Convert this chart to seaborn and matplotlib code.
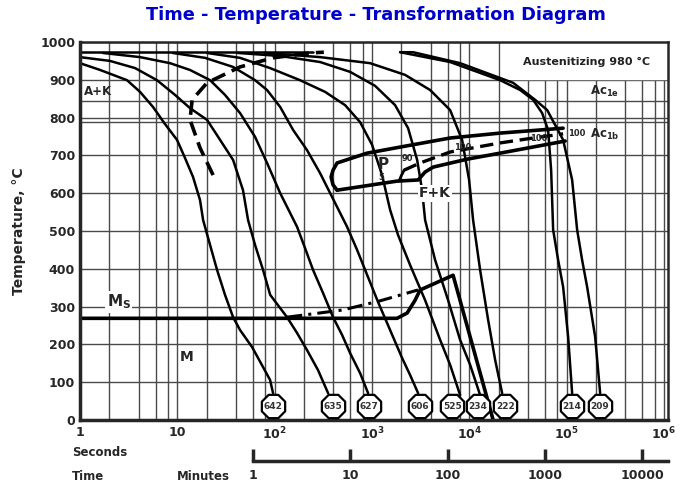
import matplotlib
matplotlib.use('Agg')
import matplotlib.pyplot as plt
import seaborn as sns

sns.set_style('white')
plt.rcParams['font.family'] = ['DejaVu Sans']

# cooling curves (time in seconds, temperature in degC), labelled by hardness
t_642 = [1, 1.61, 3.04, 4.14, 5.63, 7.47, 9.93, 12.0, 14.5, 17.1, 18.4, 21.7, 25.6,
         30.9, 37.4, 44.1, 58.6, 76.0, 89.7, 96.3]
T_642 = [944, 926, 899, 868, 828, 783, 741, 693, 643, 582, 529, 463, 397,
         331, 272, 238, 193, 140, 106, 71]
t_635 = [1, 2.03, 3.68, 6.18, 9.47, 13.5, 20.2, 27.5, 37.4, 47.3, 53.3, 62.9, 76.0,
         90.0, 134, 170, 215, 279, 354]
T_635 = [960, 950, 931, 899, 860, 825, 794, 741, 688, 608, 529, 463, 397,
         331, 272, 230, 185, 132, 71]
t_627 = [1.72, 4.14, 8.41, 13.5, 21.7, 30.9, 44.1, 62.9, 83.5, 114, 170, 205, 248,
         314, 398, 493, 596, 755, 912]
T_627 = [971, 960, 944, 926, 899, 860, 812, 749, 680, 600, 511, 455, 397,
         336, 272, 225, 177, 124, 71]
t_606 = [9.0, 19.3, 37.4, 62.9, 83.5, 114, 155, 215, 293, 418, 555, 703, 891,
         1155, 1535, 2039, 2464, 2978]
T_606 = [971, 958, 934, 899, 873, 828, 767, 714, 653, 574, 511, 450, 384,
         312, 238, 164, 119, 71]
t_525 = [20.2, 44.1, 89.7, 182, 330, 529, 755, 1002, 1270, 1535, 1855, 2464, 3514,
         5012, 6350, 8041]
T_525 = [971, 958, 931, 899, 868, 833, 788, 728, 648, 556, 489, 410, 317,
         212, 146, 66]
t_234 = [42.0, 114, 293, 596, 1076, 1727, 2350, 2910, 3273, 3514, 4455, 6053, 8041,
         10190, 12910]
T_234 = [971, 963, 947, 921, 884, 833, 772, 688, 608, 529, 423, 317, 212,
         146, 66]
t_222 = [79.7, 293, 955, 2189, 3955, 6350, 8430, 9950, 10940, 12910, 15600, 18420,
         21740]
T_222 = [971, 960, 944, 913, 873, 820, 741, 635, 529, 397, 265, 159, 71]
t_214 = [1945, 6350, 20730, 33270, 45270, 56000, 64540, 69290, 72660, 81800, 92040,
         103600, 113900]
T_214 = [973, 947, 899, 873, 847, 812, 767, 661, 503, 423, 352, 220, 71]
t_209 = [1945, 2645, 8041, 28190, 47440, 63050, 92040, 113900, 128200, 144300, 162400,
         196300, 220900]
T_209 = [973, 973, 944, 892, 847, 820, 741, 635, 503, 423, 352, 220, 71]

hardness = ['642', '635', '627', '606', '525', '234', '222', '214', '209']
hard_t = [96, 398, 934, 3120, 6660, 12300, 23350, 114000, 220800]

# austenite dissolution boundary (dashed)
t_aus = [23.3, 17.1, 13.5, 14.2, 20.2, 44, 96, 230, 320]
T_aus = [648, 720, 794, 847, 892, 934, 958, 971, 973]

# pearlite region
t_ps = [92000, 20740, 6350, 1944, 891, 438, 398, 380, 398, 438]
T_ps = [772, 759, 746, 722, 706, 680, 661, 643, 622, 608]
t_pf = [438, 1811, 2978, 3514, 4246, 9490, 20740, 96600]
T_pf = [608, 632, 635, 656, 669, 690, 706, 738]
t_p90 = [2138, 3121, 6350, 20740, 45300, 92000]
T_p90 = [661, 680, 709, 733, 746, 757]
t_arc = [1900, 1990, 2138]
T_arc = [632, 645, 661]

# martensite start / bainite
t_ms = [1, 1811, 2296, 2774, 3121, 6813, 17570]
T_ms = [269, 269, 283, 317, 344, 383, 0]
t_msd = [134, 500, 1200, 2970]
T_msd = [272, 291, 315, 344]

ac1e = 845
ac1b = 788

fig = plt.figure(figsize=(6.94, 4.88), dpi=100)
ax = fig.add_axes([80/694, 1-420/488, 588/694, 378/488])
ax.set_xscale('log')
ax.set_xlim(1, 1.1e6)
ax.set_ylim(0, 1000)

# grid
minors = [m * 10**k for k in range(0, 6) for m in (2, 4, 6, 8)]
ax.set_xticks([10**k for k in range(7)])
ax.set_xticks(minors, minor=True)
ax.set_yticks(range(0, 1001, 100))
ax.grid(which='both', color='#4a4a4a', lw=1.0)
ax.axhline(ac1e, color='#4a4a4a', lw=1.0)
ax.axhline(ac1b, color='#4a4a4a', lw=1.0)
ax.tick_params(which='both', length=0)
ax.set_xticklabels(['1', '10'] + [r'$\mathbf{10^{%d}}$' % k for k in range(2, 7)],
                   fontweight='bold', fontsize=9)
ax.set_yticklabels([str(v) for v in range(0, 1001, 100)], fontweight='bold', fontsize=9)
ax.tick_params(axis='x', pad=4)
for s in ['left', 'bottom']:
    ax.spines[s].set_linewidth(2.5)
for s in ['top', 'right']:
    ax.spines[s].set_linewidth(1.8)
ax.set_ylabel('Temperature, °C', fontweight='bold', fontsize=10, labelpad=10)

# white box for the austenitizing note
ax.fill_between([2.1e4, 1.1e6], 901, 998, color='white', zorder=1.5)
ax.text(1.6e5, 947, 'Austenitizing 980 °C', ha='center', va='center',
        fontsize=8, fontweight='bold', color='#222222', zorder=2)

# start line at austenitizing temperature
sns.lineplot(x=[1, 248], y=[973, 973], color='black', lw=1.8, ax=ax)

curves = [(t_642, T_642), (t_635, T_635), (t_627, T_627), (t_606, T_606),
          (t_525, T_525), (t_234, T_234), (t_222, T_222), (t_214, T_214),
          (t_209, T_209)]
for tt, TT in curves:
    sns.lineplot(x=tt, y=TT, sort=False, estimator=None, color='black', lw=1.8, ax=ax)

sns.lineplot(x=t_aus, y=T_aus, sort=False, estimator=None, color='black', lw=2.6,
             linestyle=(0, (4, 2)), ax=ax)
sns.lineplot(x=t_ps, y=T_ps, sort=False, estimator=None, color='black', lw=2.6, ax=ax)
sns.lineplot(x=t_pf, y=T_pf, sort=False, estimator=None, color='black', lw=2.6, ax=ax)
sns.lineplot(x=t_p90, y=T_p90, sort=False, estimator=None, color='black', lw=2.4,
             linestyle=(0, (4, 2)), ax=ax)
sns.lineplot(x=t_arc, y=T_arc, sort=False, estimator=None, color='black', lw=2.0, ax=ax)
sns.lineplot(x=t_ms, y=T_ms, sort=False, estimator=None, color='black', lw=2.6, ax=ax)
sns.lineplot(x=t_msd, y=T_msd, sort=False, estimator=None, color='black', lw=2.2,
             linestyle=(0, (5, 2, 1, 2)), ax=ax)

# hardness octagons
ax.scatter(hard_t, [37] * len(hard_t), marker='8', s=330, facecolor='white',
           edgecolor='black', linewidth=1.6, zorder=5)
for tt, h in zip(hard_t, hardness):
    ax.text(tt, 37, h, ha='center', va='center', fontsize=6.5, fontweight='bold',
            color='#333333', zorder=6)

# labels
wb = dict(facecolor='white', edgecolor='none', pad=1)
ax.text(1.1, 868, 'A+K', fontsize=8.5, fontweight='bold', va='center')
ax.text(1.75e5, 868, r'Ac$_{\mathbf{1e}}$', fontsize=8.5, fontweight='bold', va='center')
ax.text(1.75e5, 755, r'Ac$_{\mathbf{1b}}$', fontsize=8.5, fontweight='bold', va='center')
ax.text(2295, 693, '90', fontsize=6, fontweight='bold', ha='center', va='center')
ax.text(8630, 722, '100', fontsize=6, fontweight='bold', ha='center', va='center')
ax.text(52100, 746, '100', fontsize=6, fontweight='bold', ha='center', va='center')
ax.text(126000, 759, '100', fontsize=6, fontweight='bold', ha='center', va='center')
ax.text(1300, 675, 'P', fontsize=11, fontweight='bold', ha='center', va='center')
ax.text(1260, 641, '5', fontsize=6, fontweight='bold', ha='center', va='center')
ax.text(4450, 600, 'F+K', fontsize=10, fontweight='bold', ha='center', va='center',
        bbox=wb, zorder=3)
ax.text(2.5, 312, r'M$_{\mathbf{S}}$', fontsize=11, fontweight='bold', ha='center',
        va='center', bbox=wb, zorder=3)
ax.text(12.6, 167, 'M', fontsize=10, fontweight='bold', ha='center', va='center')

# title
fig.text(376/694, 1-15/488, 'Time - Temperature - Transformation Diagram', ha='center',
         va='center', fontsize=12.8, fontweight='bold', color='#0000cc')

# minutes axis
ax2 = fig.add_axes([80/694, 1-461/488, 588/694, 12/488])
ax2.patch.set_alpha(0)
ax2.set_xscale('log')
ax2.set_xlim(1/60, 1.1e6/60)
ax2.set_ylim(0, 1)
for s in ['left', 'right', 'top']:
    ax2.spines[s].set_visible(False)
ax2.spines['bottom'].set_bounds(1, 1.1e6/60)
ax2.spines['bottom'].set_linewidth(2.5)
ax2.set_yticks([])
ax2.set_xticks([1, 10, 100, 1000, 10000])
ax2.set_xticks([], minor=True)
ax2.set_xticklabels(['1', '10', '100', '1000', '10000'], fontweight='bold', fontsize=9)
ax2.tick_params(axis='x', bottom=True, direction='in', length=9, width=2.5, pad=6)

fig.text(72/694, 1-453/488, 'Seconds', fontsize=8.5, fontweight='bold', va='center')
fig.text(72/694, 1-477/488, 'Time', fontsize=8.5, fontweight='bold', va='center')
fig.text(177/694, 1-477/488, 'Minutes', fontsize=8.5, fontweight='bold', va='center')

fig.savefig('out.png', dpi=100)
